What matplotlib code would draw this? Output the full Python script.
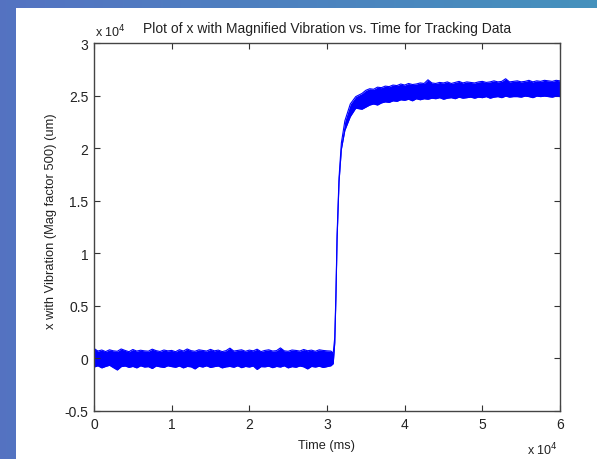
import numpy as np
import matplotlib
matplotlib.use("Agg")
import matplotlib.pyplot as plt
from matplotlib.patches import Rectangle

plt.rcParams['font.family'] = ['Liberation Sans', 'DejaVu Sans']

# ---- data ----
# flat segment before the step, sampled every 500 ms from 0 to 30500 ms
time_base = np.arange(0, 30501, 500)
upper_base = [950, 700, 800, 650, 820, 720, 680, 900, 760, 640,
              850, 700, 780, 720, 690, 880, 740, 660, 800, 720,
              760, 640, 830, 700, 900, 740, 680, 820, 760, 700,
              860, 720, 790, 650, 740, 980, 700, 760, 820, 680,
              790, 720, 880, 650, 760, 820, 700, 740, 1000, 720,
              680, 800, 760, 700, 850, 730, 790, 680, 820, 760,
              720, 700]
lower_base = [-820, -700, -900, -760, -650, -880, -1100, -780, -720, -850,
              -760, -900, -700, -820, -780, -960, -720, -800, -860, -700,
              -780, -840, -720, -900, -760, -800, -1000, -740, -820, -700,
              -860, -780, -720, -900, -800, -760, -840, -700, -880, -760,
              -820, -720, -1050, -780, -800, -740, -880, -760, -820, -700,
              -900, -780, -840, -720, -800, -1000, -760, -820, -740, -860,
              -780, -700]

# the step
time_step = [30800, 31000, 31150, 31300, 31550, 31850, 32300, 33000, 33700]
upper_step = [500, 2000, 6200, 11800, 17200, 20500, 22600, 24200, 24900]
lower_step = [-500, 1500, 5800, 11400, 16800, 19900, 21700, 23000, 23800]

# plateau after the step, sampled every 500 ms from 34500 to 60000 ms
time_plat = np.arange(34500, 60001, 500)
upper_plat = [25200, 25500, 25650, 25600, 25800, 25750, 25900, 25850, 26000, 25950,
              26100, 26000, 26150, 26050, 26100, 26200, 26150, 26500, 26200, 26150,
              26250, 26200, 26300, 26150, 26250, 26350, 26200, 26300, 26250, 26200,
              26300, 26350, 26250, 26300, 26400, 26300, 26350, 26600, 26300, 26350,
              26400, 26300, 26350, 26450, 26300, 26400, 26350, 26450, 26400, 26350,
              26450, 26400]
lower_plat = [23700, 23900, 24100, 24200, 24100, 24300, 24400, 24350, 24500, 24450,
              24600, 24550, 24650, 24500, 24700, 24600, 24700, 24650, 24750, 24700,
              24800, 24650, 24750, 24800, 24700, 24850, 24750, 24800, 24850, 24750,
              24850, 24800, 24900, 24750, 24850, 24900, 24800, 24950, 24850, 24900,
              24900, 24850, 24950, 24900, 24800, 24950, 24900, 24950, 24900, 24850,
              24950, 24900]

x_ticks = [0, 10000, 20000, 30000, 40000, 50000, 60000]
x_ticklabels = ['0', '1', '2', '3', '4', '5', '6']
y_ticks = [-5000, 0, 5000, 10000, 15000, 20000, 25000, 30000]
y_ticklabels = ['-0.5', '0', '0.5', '1', '1.5', '2', '2.5', '3']

title = 'Plot of x with Magnified Vibration vs. Time for Tracking Data'
xlabel = 'Time (ms)'
ylabel = 'x with Vibration (Mag factor 500) (um)'

time_ms = np.concatenate([time_base, time_step, time_plat])
x_upper = np.concatenate([upper_base, upper_step, upper_plat])
x_lower = np.concatenate([lower_base, lower_step, lower_plat])

# ---- figure ----
W, H = 597, 460
fig = plt.figure(figsize=(W / 100, H / 100), dpi=100)

# slide background gradient
bg = fig.add_axes([0, 0, 1, 1], zorder=-10)
gx = np.linspace(0, 1, 256)[None, :]
gy = np.linspace(0, 1, 256)[:, None]
one = np.ones_like(gy)
r = (0.33 - 0.06 * gx) * one
g = (0.45 + 0.12 * gx) * one
b = (0.76 - 0.02 * gx) * one
bg.imshow(np.clip(np.dstack([r, g, b]), 0, 1), aspect='auto', extent=[0, 1, 0, 1])
bg.axis('off')
fig.add_artist(Rectangle((16 / W, 0), 1 - 16 / W, 1 - 9 / H,
                         transform=fig.transFigure, facecolor='white',
                         edgecolor='none', zorder=-5))

ax = fig.add_axes([94 / W, (H - 412) / H, (560 - 94) / W, (412 - 44) / H])
ax.set_facecolor('white')
ax.fill_between(time_ms, x_lower, x_upper, color='#0000ff', linewidth=0)
ax.plot(time_ms, x_upper, color='#0000ff', linewidth=0.8)
ax.plot(time_ms, x_lower, color='#0000ff', linewidth=0.8)

ax.set_xlim(0, 60000)
ax.set_ylim(-5000, 30000)
ax.set_xticks(x_ticks)
ax.set_xticklabels(x_ticklabels)
ax.set_yticks(y_ticks)
ax.set_yticklabels(y_ticklabels)
ax.tick_params(direction='in', length=4, width=0.8, colors='#333333',
               labelsize=10, top=True, right=True, pad=4)
for lab in ax.get_xticklabels() + ax.get_yticklabels():
    lab.set_color('#222222')
for s in ax.spines.values():
    s.set_color('#444444')
    s.set_linewidth(1.0)

ax.set_title(title, fontsize=10, color='#222222', pad=8)
ax.set_xlabel(xlabel, fontsize=9.2, color='#222222', labelpad=6)
ax.set_ylabel(ylabel, fontsize=9.3, color='#222222')
ax.yaxis.set_label_coords((57 - 94) / (560 - 94), (412 - 221) / (412 - 44))

fig.text(95 / W, 1 - 37 / H, r'x 10$^{4}$', fontsize=9, color='#222222',
         ha='left', va='baseline')
fig.text(527 / W, 1 - 455 / H, r'x 10$^{4}$', fontsize=9, color='#222222',
         ha='left', va='baseline')

fig.savefig('out.png', dpi=100)
